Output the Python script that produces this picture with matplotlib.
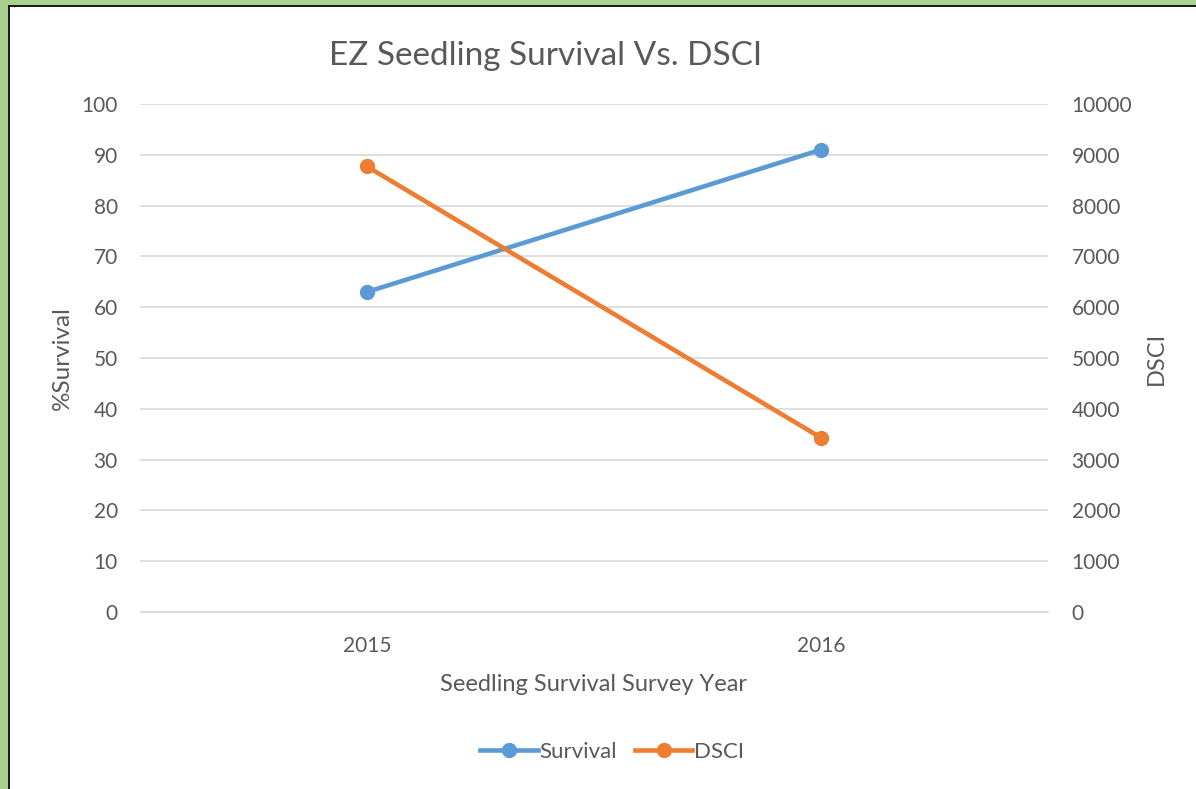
import matplotlib.pyplot as plt
import numpy as np
from matplotlib.patches import Rectangle
from matplotlib.lines import Line2D

years = ["2015", "2016"]
survival = [63, 91]
dsci = [8770, 3430]

plt.rcParams['font.family'] = ['Lato', 'DejaVu Sans']
grey = "#595959"
blue = "#5b9bd5"
orange = "#ed7d31"

fig = plt.figure(figsize=(11.96, 7.89), dpi=100)

# green frame on top/left with a dark line inside
fig.patches.append(Rectangle((0, 0), 1, 1, transform=fig.transFigure,
                             facecolor="#a9d18e", edgecolor="none", zorder=-3))
fig.patches.append(Rectangle((8 / 1196, 0), 1, 1 - 5 / 789, transform=fig.transFigure,
                             facecolor="#1a1a1a", edgecolor="none", zorder=-2))
fig.patches.append(Rectangle((10 / 1196, 0), 1, 1 - 7 / 789, transform=fig.transFigure,
                             facecolor="white", edgecolor="none", zorder=-1))

ax = fig.add_axes([140 / 1196, 1 - 612 / 789, 908 / 1196, 508 / 789])
ax.patch.set_alpha(0)
x = np.arange(len(years))

ax.plot(x, survival, color=blue, lw=3.3, marker="o", ms=10, zorder=3)
ax.set_xlim(-0.5, 1.5)
ax.set_ylim(0, 100)
ax.set_yticks(range(0, 101, 10))
ax.set_xticks(x)
ax.set_xticklabels(years)
ax.grid(axis="y", color="#d9d9d9", lw=1.2)
ax.set_axisbelow(True)
for s in ax.spines.values():
    s.set_visible(False)
ax.spines["bottom"].set_visible(True)
ax.spines["bottom"].set_color("#d9d9d9")
ax.tick_params(length=0, labelsize=15, colors=grey, pad=17)
ax.tick_params(axis="y", pad=16)
ax.set_ylabel("%Survival", fontsize=17.5, color=grey, labelpad=6)
ax.set_xlabel("Seedling Survival Survey Year", fontsize=17, color=grey, labelpad=13)

ax2 = ax.twinx()
ax2.plot(x, dsci, color=orange, lw=3.3, marker="o", ms=10, zorder=3)
ax2.set_ylim(0, 10000)
ax2.set_yticks(range(0, 10001, 1000))
for s in ax2.spines.values():
    s.set_visible(False)
ax2.tick_params(length=0, labelsize=15, colors=grey, pad=17)
ax2.set_ylabel("DSCI", fontsize=17, color=grey, labelpad=10)

fig.text(546 / 1196, 1 - 56 / 789, "EZ Seedling Survival Vs. DSCI",
         ha="center", va="center", fontsize=24, color=grey)

handles = [Line2D([], [], color=blue, lw=3.3, marker="o", ms=10),
           Line2D([], [], color=orange, lw=3.3, marker="o", ms=10)]
fig.legend(handles, ["Survival", "DSCI"], loc="center", bbox_to_anchor=(612 / 1196, 1 - 752 / 789),
           ncol=2, frameon=False, fontsize=16, labelcolor=grey, handlelength=2.6,
           handletextpad=0.05, columnspacing=0.8)

fig.savefig("out.png", dpi=100)
